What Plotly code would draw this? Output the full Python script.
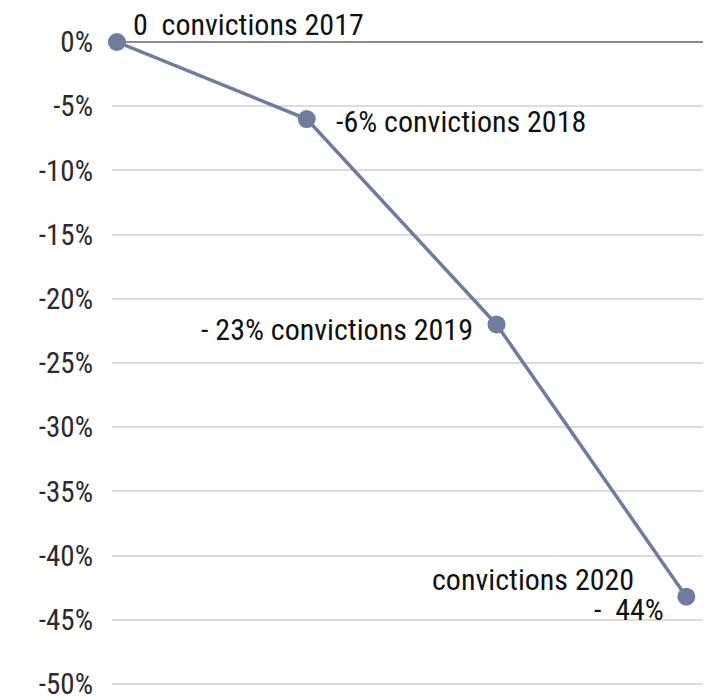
import plotly.graph_objects as go

years = ["2017", "2018", "2019", "2020"]
values = [0, -6, -22, -43.2]
tick_vals = [0, -5, -10, -15, -20, -25, -30, -35, -40, -45, -50]
tick_text = ["0%", "-5%", "-10%", "-15%", "-20%", "-25%", "-30%", "-35%", "-40%", "-45%", "-50%"]
labels = ["0  convictions 2017", "-6% convictions 2018", "- 23% convictions 2019", "convictions 2020"]
extra_label = "-  44%"

FONT = "Liberation Sans Narrow, Roboto Condensed, Roboto, sans-serif"
FS = 30
xs = list(range(len(years)))

fig = go.Figure()
fig.add_trace(go.Scatter(
    x=xs, y=values, mode="lines+markers",
    line=dict(color="#6e7d9c", width=3.5),
    marker=dict(color="#6e7d9c", size=18),
    cliponaxis=False, hoverinfo="skip", showlegend=False,
))

ann_cfg = [
    dict(xanchor="left", xshift=14, yshift=18),
    dict(xanchor="left", xshift=27, yshift=-2),
    dict(xanchor="right", xshift=-22, yshift=-5),
    dict(xanchor="right", xshift=-50, yshift=17),
]
for i, cfg in enumerate(ann_cfg):
    fig.add_annotation(x=xs[i], y=values[i], xref="x", yref="y", text=labels[i],
                       showarrow=False, font=dict(family=FONT, size=FS, color="#111"),
                       **cfg)
fig.add_annotation(x=xs[3], y=values[3], xref="x", yref="y", text=extra_label,
                   showarrow=False, xanchor="right", xshift=-20, yshift=-13,
                   font=dict(family=FONT, size=FS, color="#111"))

fig.update_xaxes(range=[-0.026, 3.13], visible=False, showgrid=False, zeroline=False)
fig.update_yaxes(range=[-50.08, 0], tickvals=tick_vals, ticktext=tick_text,
                 showgrid=True, gridcolor="#dcdcdc", gridwidth=1.5,
                 zeroline=True, zerolinecolor="#8a8a8a", zerolinewidth=1.5,
                 showline=False, ticks="", ticklabelstandoff=18, automargin=False,
                 ticklabeloverflow="allow",
                 tickfont=dict(family=FONT, size=29, color="#2a2a2a"))
fig.update_layout(width=703, height=690, margin=dict(l=104, r=0, t=34, b=13),
                  plot_bgcolor="white", paper_bgcolor="white")
fig.write_html("out.html")
